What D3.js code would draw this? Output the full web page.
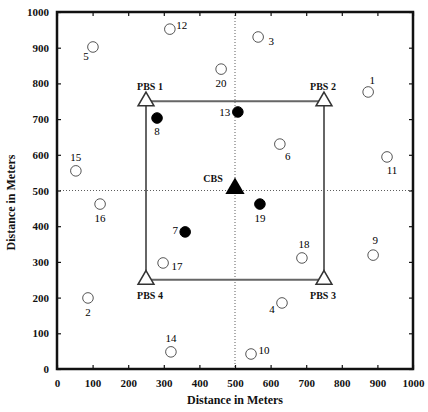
<!DOCTYPE html>
<html>
<head>
<meta charset="utf-8">
<script src="https://cdn.jsdelivr.net/npm/d3@7"></script>
<style>
  body { margin: 0; background: #fff; }
  text { font-family: "Liberation Serif", "DejaVu Serif", serif; }
</style>
</head>
<body>
<svg id="chart" width="428" height="412"></svg>
<script>
// user nodes (ids, positions in meters, active = filled)
const nodeIds = [1, 2, 3, 4, 5, 6, 7, 8, 9, 10, 11, 12, 13, 14, 15, 16, 17, 18, 19, 20];
const nodeX = [874, 87, 565, 632, 101, 626, 360, 281, 888, 545, 927, 317, 508, 320, 53, 121, 298, 688, 570, 461];
const nodeY = [776, 199, 930, 185, 902, 630, 384, 703, 319, 42, 594, 952, 720, 48, 555, 462, 297, 311, 462, 840];
const nodeActive = [false, false, false, false, false, false, true, true, false, false, false, false, true, false, false, false, false, false, true, false];
// label placement relative to marker, px
const labelDx = [4, 0, 13, -10, -7, 8, -10, 0, 2, 13, 5, 12, -13, 0, 0, 0, 14, 2, 0, 0];
const labelDy = [-12, 14, 4, 6, 9, 12, -2, 13, -15, -4, 13, -4, 0, -14, -14, 14, 3, -14, 14, 14];

// base stations
const pbsNames = ["PBS 1", "PBS 2", "PBS 3", "PBS 4"];
const pbsX = [250, 750, 750, 250];
const pbsY = [750, 750, 250, 250];
const cbs = { name: "CBS", x: 500, y: 500 };

const ticks = d3.range(0, 1001, 100);

const margin = { top: 12, left: 57 };
const w = 356, h = 357;

const svg = d3.select("#chart");
const g = svg.append("g").attr("transform", `translate(${margin.left},${margin.top})`);

const x = d3.scaleLinear().domain([0, 1000]).range([0, w]);
const y = d3.scaleLinear().domain([0, 1000]).range([h, 0]);

// dotted center lines
g.append("line")
  .attr("x1", x(500)).attr("x2", x(500)).attr("y1", 0).attr("y2", h)
  .attr("stroke", "#333").attr("stroke-width", 0.8).attr("stroke-dasharray", "1,2");
g.append("line")
  .attr("x1", 0).attr("x2", w).attr("y1", y(500)).attr("y2", y(500))
  .attr("stroke", "#333").attr("stroke-width", 0.8).attr("stroke-dasharray", "1,2");

// PBS square
const sq = pbsX.map((px, i) => [x(px), y(pbsY[i])]);
g.append("path")
  .attr("d", d3.line()(sq) + "Z")
  .attr("fill", "none")
  .attr("stroke", "#666")
  .attr("stroke-width", 2);

// axes (ticks inside, mirrored)
const fmt = d3.format("d");
g.append("g").attr("transform", `translate(0,${h})`)
  .call(d3.axisBottom(x).tickValues(ticks).tickSize(-4).tickPadding(10).tickFormat(fmt));
g.append("g")
  .call(d3.axisLeft(y).tickValues(ticks).tickSize(-4).tickPadding(8).tickFormat(fmt));
g.append("g")
  .call(d3.axisTop(x).tickValues(ticks).tickSize(-4).tickFormat(""));
g.append("g").attr("transform", `translate(${w},0)`)
  .call(d3.axisRight(y).tickValues(ticks).tickSize(-4).tickFormat(""));

g.selectAll(".domain").remove();
g.selectAll(".tick line").attr("stroke", "#111").attr("stroke-width", 1.2);
g.selectAll(".tick text")
  .attr("fill", "#111")
  .style("font-size", "11px")
  .style("font-weight", "bold")
  .style("font-family", "'Liberation Serif', serif");

g.append("rect")
  .attr("width", w).attr("height", h)
  .attr("fill", "none").attr("stroke", "#111").attr("stroke-width", 2.5);

// nodes
const nodes = nodeIds.map((id, i) => ({
  id, x: nodeX[i], y: nodeY[i], active: nodeActive[i], dx: labelDx[i], dy: labelDy[i]
}));

g.selectAll("circle.node")
  .data(nodes)
  .join("circle")
  .attr("class", "node")
  .attr("cx", d => x(d.x))
  .attr("cy", d => y(d.y))
  .attr("r", 5.3)
  .attr("fill", d => d.active ? "#000" : "#fff")
  .attr("stroke", d => d.active ? "#000" : "#555")
  .attr("stroke-width", 1);

g.selectAll("text.node-label")
  .data(nodes)
  .join("text")
  .attr("class", "node-label")
  .attr("x", d => x(d.x) + d.dx)
  .attr("y", d => y(d.y) + d.dy)
  .attr("dy", "0.35em")
  .attr("text-anchor", "middle")
  .style("font-size", "11px")
  .attr("fill", "#000")
  .text(d => d.id);

// base station triangles
const tri = d3.symbol().type(d3.symbolTriangle);
const pbs = pbsNames.map((name, i) => ({ name, x: pbsX[i], y: pbsY[i], top: pbsY[i] > 500 }));

g.selectAll("path.pbs")
  .data(pbs)
  .join("path")
  .attr("class", "pbs")
  .attr("transform", d => `translate(${x(d.x)},${y(d.y)})`)
  .attr("d", tri.size(110)())
  .attr("fill", "#fff")
  .attr("stroke", "#333")
  .attr("stroke-width", 1.5);

g.selectAll("text.pbs-label")
  .data(pbs)
  .join("text")
  .attr("class", "pbs-label")
  .attr("x", d => x(d.x) + (d.x < 500 ? 4 : -1))
  .attr("y", d => y(d.y) + (d.top ? -15 : 16))
  .attr("dy", "0.35em")
  .attr("text-anchor", "middle")
  .style("font-size", "10px")
  .style("font-weight", "bold")
  .attr("fill", "#111")
  .text(d => d.name);

g.append("path")
  .attr("transform", `translate(${x(cbs.x)},${y(cbs.y) - 2})`)
  .attr("d", tri.size(160)())
  .attr("fill", "#000");

g.append("text")
  .attr("x", x(cbs.x) - 22)
  .attr("y", y(cbs.y) - 12)
  .attr("dy", "0.35em")
  .attr("text-anchor", "middle")
  .style("font-size", "10px")
  .style("font-weight", "bold")
  .attr("fill", "#111")
  .text(cbs.name);

// axis titles
svg.append("text")
  .attr("x", margin.left + w / 2)
  .attr("y", 404)
  .attr("text-anchor", "middle")
  .style("font-size", "12px")
  .style("font-weight", "bold")
  .attr("fill", "#111")
  .text("Distance in Meters");

svg.append("text")
  .attr("transform", `translate(15,${margin.top + h / 2 + 12}) rotate(-90)`)
  .attr("text-anchor", "middle")
  .style("font-size", "12px")
  .style("font-weight", "bold")
  .attr("fill", "#111")
  .text("Distance in Meters");
</script>
</body>
</html>
